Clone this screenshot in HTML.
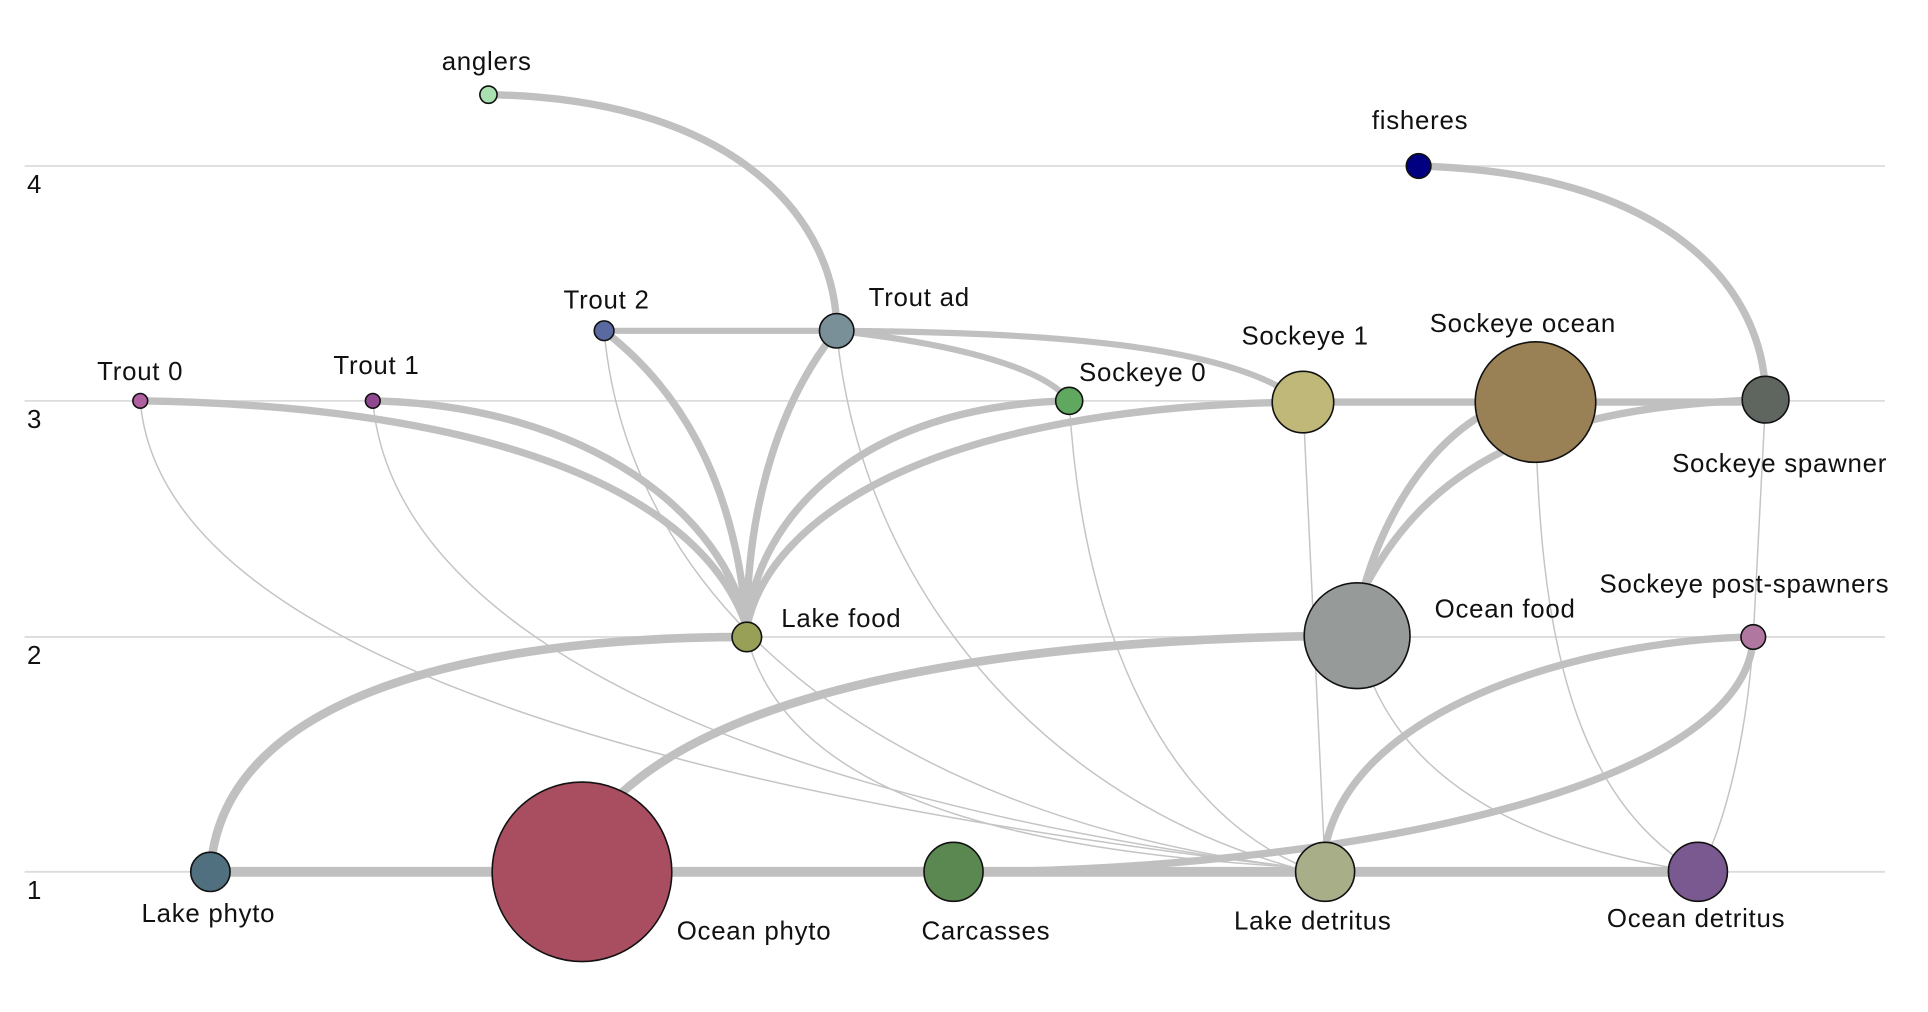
<!DOCTYPE html>
<html><head><meta charset="utf-8"><style>
html,body{margin:0;padding:0;background:#fff;width:1928px;height:1012px;overflow:hidden}
svg{display:block}
text{font-family:"Liberation Sans",sans-serif;font-size:21px;letter-spacing:0.6px;fill:#111}
</style></head><body>
<svg width="1928" height="1012" viewBox="0 0 1567 823" preserveAspectRatio="none" xmlns="http://www.w3.org/2000/svg">
<g stroke="#dcdcdc" stroke-width="1.5">
<line x1="20" y1="135" x2="1532" y2="135"/><line x1="20" y1="326" x2="1532" y2="326"/>
<line x1="20" y1="518" x2="1532" y2="518"/><line x1="20" y1="709" x2="1532" y2="709"/>
</g>
<text x="22" y="157">4</text><text x="22" y="348">3</text><text x="22" y="540">2</text><text x="22" y="731">1</text>
<g fill="none" stroke="#c4c4c4" stroke-width="1.2">
<path d="M114,326 C130,520 500,640 1050,705"/>
<path d="M303,326 C320,520 620,650 1050,705"/>
<path d="M491,269 C510,480 700,660 1050,705"/>
<path d="M680,269 C700,480 850,650 1050,705"/>
<path d="M869,326 C880,520 950,660 1060,705"/>
<path d="M1059,327 L1077,705"/>
<path d="M607,518 C640,640 800,690 1050,705"/>
<path d="M1103,517 C1130,640 1250,690 1380,709"/>
<path d="M1248,327 C1250,520 1280,650 1380,709"/>
<path d="M1435,325 L1425,518"/>
<path d="M1425,518 C1420,600 1400,680 1380,709"/>
</g>
<g fill="none" stroke="#c0c0c0" stroke-linecap="round">
<path d="M171,709 L1380,709" stroke-width="8"/>
<path d="M397,77 C600,80 680,180 680,269" stroke-width="6"/>
<path d="M1153,135 C1350,140 1435,230 1435,325" stroke-width="6"/>
<path d="M491,269 L680,269" stroke-width="5"/>
<path d="M680,269 C850,270 1000,280 1059,327" stroke-width="5"/>
<path d="M680,269 C780,280 850,300 869,326" stroke-width="5"/>
<path d="M1059,327 L1435,327" stroke-width="6"/>
<path d="M114,326 C400,330 570,400 607,510" stroke-width="6"/>
<path d="M303,326 C480,330 590,420 607,510" stroke-width="6"/>
<path d="M491,269 C570,330 600,420 607,510" stroke-width="6"/>
<path d="M680,269 C630,330 607,420 607,510" stroke-width="6"/>
<path d="M869,326 C700,330 615,420 607,510" stroke-width="6"/>
<path d="M1059,327 C760,330 625,420 607,510" stroke-width="6"/>
<path d="M171,709 C180,560 400,518 607,518" stroke-width="7"/>
<path d="M505,645 C620,540 900,518 1103,517" stroke-width="7"/>
<path d="M1108,480 C1130,400 1180,340 1230,327" stroke-width="6"/>
<path d="M1108,480 C1160,380 1250,330 1435,325" stroke-width="6"/>
<path d="M1077,690 C1100,570 1300,520 1425,518" stroke-width="6"/>
<path d="M800,709 C1100,705 1420,640 1425,518" stroke-width="6"/>
</g>
<g stroke="#111" stroke-width="1.3">
<circle cx="397" cy="77" r="7" fill="#a8e0b0"/>
<circle cx="1153" cy="135" r="10" fill="#000080"/>
<circle cx="491" cy="269" r="8" fill="#5a6aa0"/>
<circle cx="680" cy="269" r="14" fill="#7a9098"/>
<circle cx="114" cy="326" r="6" fill="#b060a0"/>
<circle cx="303" cy="326" r="6" fill="#904890"/>
<circle cx="869" cy="326" r="11" fill="#60a860"/>
<circle cx="1059" cy="327" r="25" fill="#c0b878"/>
<circle cx="1248" cy="327" r="49" fill="#9a8055"/>
<circle cx="1435" cy="325" r="19" fill="#5f6660"/>
<circle cx="607" cy="518" r="12" fill="#98a058"/>
<circle cx="1103" cy="517" r="43" fill="#969a98"/>
<circle cx="1425" cy="518" r="10" fill="#b078a0"/>
<circle cx="171" cy="709" r="16" fill="#507080"/>
<circle cx="473" cy="709" r="73" fill="#a84e60"/>
<circle cx="775" cy="709" r="24" fill="#5a8850"/>
<circle cx="1077" cy="709" r="24" fill="#a8ae88"/>
<circle cx="1380" cy="709" r="24" fill="#7a5890"/>
</g>
<text x="359" y="57">anglers</text>
<text x="1115" y="105">fisheres</text>
<text x="458" y="251">Trout 2</text>
<text x="706" y="249">Trout ad</text>
<text x="79" y="309">Trout 0</text>
<text x="271" y="304">Trout 1</text>
<text x="877" y="310">Sockeye 0</text>
<text x="1009" y="280">Sockeye 1</text>
<text x="1162" y="270">Sockeye ocean</text>
<text x="1359" y="384">Sockeye spawner</text>
<text x="635" y="510">Lake food</text>
<text x="1166" y="502">Ocean food</text>
<text x="1300" y="482">Sockeye post-spawners</text>
<text x="115" y="750">Lake phyto</text>
<text x="550" y="764">Ocean phyto</text>
<text x="749" y="764">Carcasses</text>
<text x="1003" y="756">Lake detritus</text>
<text x="1306" y="754">Ocean detritus</text>
</svg>
</body></html>
